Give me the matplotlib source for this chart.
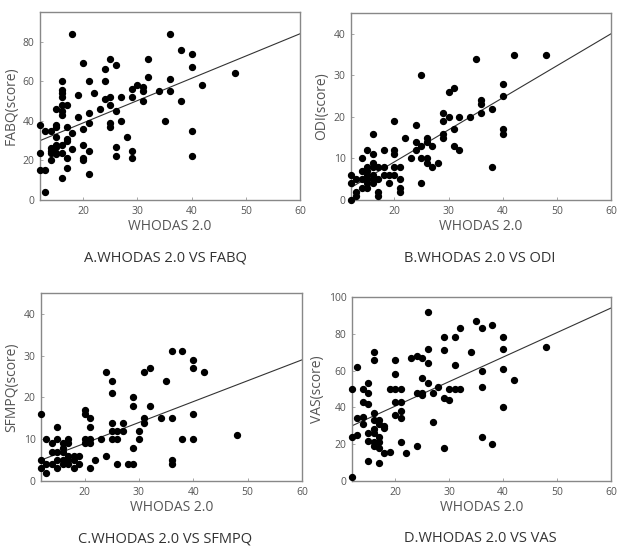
import matplotlib
matplotlib.use("Agg")
import matplotlib.pyplot as plt
import numpy as np

plt.rcParams['font.family'] = ['Open Sans', 'DejaVu Sans']

# A. WHODAS vs FABQ
fabq_x = [12, 12, 12, 13, 13, 13, 14, 14, 14, 14, 14, 15, 15, 15, 15, 15, 15, 15, 15,
          16, 16, 16, 16, 16, 16, 16, 16, 16, 16, 17, 17, 17, 17, 17, 17, 18, 18, 18,
          19, 19, 20, 20, 20, 20, 20, 21, 21, 21, 21, 21, 22, 23, 24, 24, 24, 25, 25,
          25, 25, 25, 26, 26, 26, 26, 27, 27, 28, 29, 29, 29, 29, 30, 31, 31, 31, 32,
          32, 34, 35, 36, 36, 36, 38, 38, 40, 40, 40, 40, 42, 48]
fabq_y = [38, 24, 15, 15, 4, 35, 35, 26.5, 25, 24, 20, 38, 37, 32, 46, 28, 27, 24, 23,
          60, 55.5, 54, 52, 48, 45, 43, 28, 24, 11, 48, 37, 31, 30, 21, 16, 84, 34, 26,
          53, 42, 69, 36, 28, 21, 20, 60, 44, 39, 25, 13, 54, 46, 66, 60, 51, 71, 52,
          48, 39, 37, 68, 45, 27, 22, 52, 40, 32, 56, 52, 25, 21, 58, 57, 55, 50, 71,
          62, 55, 40, 84, 61, 55, 76, 50, 74, 67, 35, 22, 58, 64]
fabq_line = [30, 84]

# B. WHODAS vs ODI
odi_x = [12, 12, 12, 13, 13, 13, 14, 14, 14, 14, 15, 15, 15, 15, 15, 15, 15,
         16, 16, 16, 16, 16, 16, 16, 17, 17, 17, 17, 18, 18, 18, 19, 19,
         20, 20, 20, 20, 20, 21, 21, 21, 21, 22, 23, 24, 24, 24, 25, 25, 25, 25,
         26, 26, 26, 26, 27, 27, 28, 29, 29, 29, 29, 30, 30, 31, 31, 31, 32, 32,
         34, 35, 36, 36, 36, 38, 38, 40, 40, 40, 40, 42, 48]
odi_y = [6, 4, 0, 2, 1, 5, 10, 7, 5, 3, 12, 8, 7, 6, 5, 4, 3,
         16, 11, 9, 8, 6, 5, 4, 8, 5, 2, 1, 12, 8, 6, 6, 4,
         19, 12, 11, 8, 6, 8, 5, 3, 2, 15, 10, 18, 14, 12, 30, 13, 10, 4,
         15, 14, 10, 9, 13, 8, 9, 21, 19, 16, 15, 26, 20, 27, 17, 13, 20, 12,
         20, 34, 24, 23, 21, 22, 8, 28, 25, 17, 16, 35, 35]
odi_line = [3, 40]

# C. WHODAS vs SFMPQ
sfmpq_x = [12, 12, 12, 13, 13, 13, 14, 14, 14, 15, 15, 15, 15, 15, 16, 16, 16, 16, 16,
           17, 17, 17, 17, 17, 18, 18, 18, 19, 19, 20, 20, 20, 20, 21, 21, 21, 21, 21,
           22, 23, 24, 24, 25, 25, 25, 25, 25, 26, 26, 26, 27, 27, 28, 29, 29, 29, 29,
           30, 30, 31, 31, 31, 32, 32, 34, 35, 36, 36, 36, 36, 38, 38, 40, 40, 40, 40,
           42, 48]
sfmpq_y = [16, 5, 3, 10, 4, 2, 9, 7, 4, 13, 10, 7, 5, 3, 9, 8, 7, 5, 4,
           10, 9, 6, 5, 4, 6, 5, 3, 6, 4, 17, 16, 10, 9, 15, 13, 10, 9, 3,
           5, 10, 26, 6, 24, 21, 14, 12, 10, 12, 10, 4, 14, 12, 4, 20, 18, 8, 4,
           12, 10, 26, 15, 14, 27, 18, 15, 24, 31, 15, 5, 4, 31, 10, 29, 27, 16, 10,
           26, 11]
sfmpq_line = [5, 29]

# D. WHODAS vs VAS
vas_x = [12, 12, 12, 13, 13, 13, 14, 14, 14, 14, 15, 15, 15, 15, 15, 15,
         16, 16, 16, 16, 16, 16, 16, 16, 17, 17, 17, 17, 17, 17, 18, 18, 18, 19, 19,
         20, 20, 20, 20, 20, 21, 21, 21, 21, 21, 22, 23, 24, 24, 24, 25, 25, 25, 25,
         26, 26, 26, 26, 27, 27, 28, 29, 29, 29, 29, 30, 30, 31, 31, 31, 32, 32,
         34, 35, 36, 36, 36, 36, 38, 38, 40, 40, 40, 40, 42, 48]
vas_y = [2, 50, 24, 62, 34, 25, 50, 43, 35, 31, 53, 48, 42, 26, 22, 11,
         70, 66, 37, 33, 28, 26, 21, 19, 33, 31, 24, 21, 18, 10, 30, 29, 15, 50, 16,
         66, 58, 50, 43, 36, 50, 43, 38, 34, 21, 15, 67, 68, 48, 19, 67, 56, 48, 47,
         92, 72, 64, 53, 48, 32, 51, 78, 71, 45, 18, 50, 44, 78, 63, 50, 83, 50,
         70, 87, 83, 60, 51, 24, 85, 20, 78, 72, 61, 40, 55, 73]
vas_line = [30, 94]

panels = [
    (fabq_x, fabq_y, fabq_line, 'FABQ(score)', 95, [0, 20, 40, 60, 80], 'A.WHODAS 2.0 VS FABQ'),
    (odi_x, odi_y, odi_line, 'ODI(score)', 45, [0, 10, 20, 30, 40], 'B.WHODAS 2.0 VS ODI'),
    (sfmpq_x, sfmpq_y, sfmpq_line, 'SFMPQ(score)', 45, [0, 10, 20, 30, 40], 'C.WHODAS 2.0 VS SFMPQ'),
    (vas_x, vas_y, vas_line, 'VAS(score)', 100, [0, 20, 40, 60, 80, 100], 'D.WHODAS 2.0 VS VAS'),
]

W, H = 617, 546
fig = plt.figure(figsize=(W / 100, H / 100), dpi=100)

# axes boxes in pixels: left, top, right, bottom
boxes = [(40, 12, 300, 200), (351, 13, 611, 200), (41, 293, 302, 481), (352, 297, 611, 481)]
caption_pos = [(165, 258), (480, 258), (165, 539), (480, 539)]
grey = '#555555'

for (px, py, line, ylab, ytop, yt, cap), (l, t, r, b), (cx, cy) in zip(panels, boxes, caption_pos):
    ax = fig.add_axes([l / W, 1 - b / H, (r - l) / W, (b - t) / H])
    ax.scatter(px, py, s=18, color='black', zorder=3, clip_on=False)
    ax.plot([12, 60], line, color='#333333', lw=0.8, zorder=2)
    ax.set_xlim(12, 60)
    ax.set_ylim(0, ytop)
    ax.set_xticks([20, 30, 40, 50, 60])
    ax.set_yticks(yt)
    ax.tick_params(direction='in', length=2, width=0.6, pad=4, labelsize=7.5,
                   colors='#999999', labelcolor=grey)
    for s in ax.spines.values():
        s.set_color('#888888')
        s.set_linewidth(1.0)
    ax.set_xlabel('WHODAS 2.0', fontsize=10, color=grey, labelpad=2)
    ax.set_ylabel(ylab, fontsize=10, color=grey, labelpad=3)
    fig.text(cx / W, 1 - cy / H, cap, ha='center', va='center', fontsize=10.5, color='#333333')

fig.savefig('out.png', dpi=100)
